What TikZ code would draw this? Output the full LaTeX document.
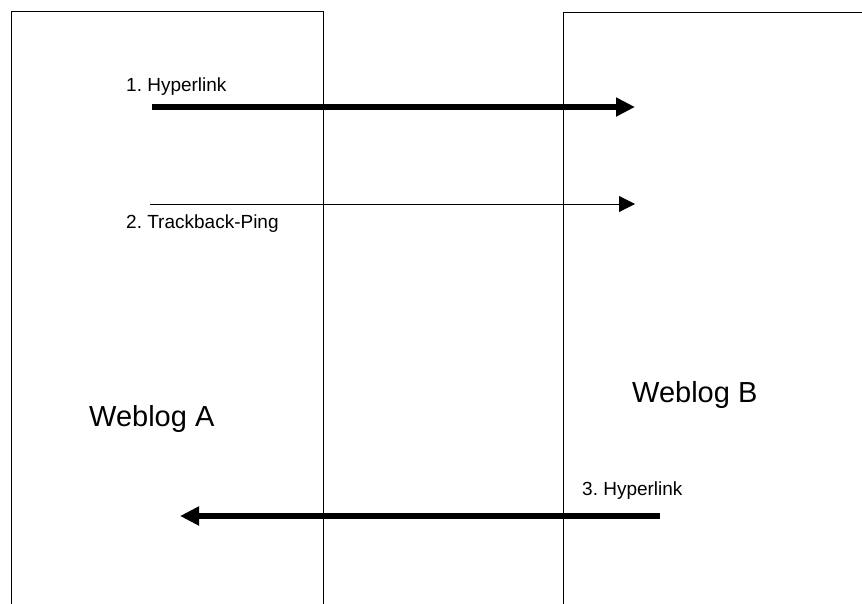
\documentclass[tikz,border=0pt]{standalone}
\usepackage{fontspec}
\setmainfont{Liberation Sans}
\usetikzlibrary{arrows.meta,positioning}
\frenchspacing

\begin{document}
\begin{tikzpicture}[x=1pt,y=-1pt,
    blogbox/.style={draw,line width=1pt,minimum width=312pt,minimum height=640pt,
      anchor=north west,inner sep=0pt},
    steplabel/.style={anchor=base west,inner sep=0pt,font=\fontsize{19}{23}\selectfont},
    bloglabel/.style={anchor=base west,inner sep=0pt,font=\fontsize{29}{34}\selectfont},
    linkarrow/.style={line width=5.5pt,-{Triangle[length=19pt,width=18pt]}},
    pingarrow/.style={line width=1pt,-{Triangle[length=16pt,width=16pt]}}]
  \fill[white] (0,0) rectangle (862,603);
  \useasboundingbox (0,0) rectangle (862,603);
  \clip (0,0) rectangle (862,603);
  % the two weblogs, open at the bottom
  \node[blogbox] (blogA) at (11,11) {};
  \node[blogbox,minimum width=330pt] (blogB) at (563,12) {};
  \node[bloglabel] (nameA) at (89,426) {Weblog A};
  \node[bloglabel] (nameB) at (632,402) {Weblog B};
  % end points of the links
  \coordinate (h1s) at (152,107);
  \coordinate (h1e) at (635,107);
  \coordinate (tbs) at (150,204);
  \coordinate (tbe) at (635,204);
  \coordinate (h3s) at (660,516);
  \coordinate (h3e) at (180,516);
  \draw[linkarrow] (h1s) -- (h1e);
  \draw[pingarrow] (tbs) -- (tbe);
  \draw[linkarrow] (h3s) -- (h3e);
  \node[steplabel] (lab1) at (126,91) {1. Hyperlink};
  \node[steplabel] (lab2) at (126,228) {2. Trackback-Ping};
  \node[steplabel] (lab3) at (582,495) {3. Hyperlink};
\end{tikzpicture}
\end{document}
